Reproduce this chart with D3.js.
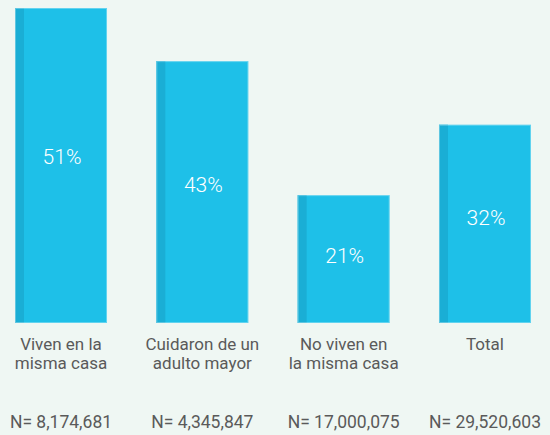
<!DOCTYPE html>
<html>
<head>
<meta charset="utf-8">
<script src="https://cdn.jsdelivr.net/npm/d3@7"></script>
<style>
  html, body { margin: 0; padding: 0; background: #eff7f3; }
  svg { display: block; }
  text { font-family: Roboto, "Noto Sans", sans-serif; }
</style>
</head>
<body>
<svg id="chart" width="550" height="435"></svg>
<script>
const categories = [
  ["Viven en la", "misma casa"],
  ["Cuidaron de un", "adulto mayor"],
  ["No viven en", "la misma casa"],
  ["Total"]
];
const values = [51.0, 42.4, 20.7, 32.1];
const valueLabels = ["51%", "43%", "21%", "32%"];
const nLabels = ["N= 8,174,681", "N= 4,345,847", "N= 17,000,075", "N= 29,520,603"];

const svg = d3.select("#chart");
const W = 550, H = 435;
svg.append("rect").attr("width", W).attr("height", H).attr("fill", "#eff7f3");

const idx = d3.range(values.length);
const x = d3.scaleBand().domain(idx).range([15, 531]).paddingInner(0.349).paddingOuter(0);
const y = d3.scaleLinear().domain([0, 51]).range([323, 8]);

const g = svg.append("g");
const bars = g.selectAll("g.bar").data(idx).join("g").attr("class", "bar");

bars.append("rect")
  .attr("x", i => x(i))
  .attr("y", i => y(values[i]))
  .attr("width", x.bandwidth())
  .attr("height", i => y(0) - y(values[i]))
  .attr("fill", "#1ec0e8");

bars.append("rect")
  .attr("x", i => x(i))
  .attr("y", i => y(values[i]))
  .attr("width", 9)
  .attr("height", i => y(0) - y(values[i]))
  .attr("fill", "#1aaed5");

bars.append("rect")
  .attr("x", i => x(i) + 0.5)
  .attr("y", i => y(values[i]) + 0.5)
  .attr("width", x.bandwidth() - 1)
  .attr("height", i => y(0) - y(values[i]) - 1)
  .attr("fill", "none")
  .attr("stroke", "rgba(255,255,255,0.3)")
  .attr("stroke-width", 1);

bars.append("text")
  .attr("x", i => x(i) + x.bandwidth() / 2 + 1)
  .attr("y", i => y(values[i] * 0.53) + 7.5)
  .attr("text-anchor", "middle")
  .attr("font-size", 21)
  .attr("font-weight", 300)
  .attr("fill", "#ffffff")
  .text(i => valueLabels[i]);

const lab = g.selectAll("text.cat").data(idx).join("text")
  .attr("class", "cat")
  .attr("x", i => x(i) + x.bandwidth() / 2)
  .attr("y", 350)
  .attr("text-anchor", "middle")
  .attr("font-size", 17)
  .attr("fill", "#5a5a5a");
lab.selectAll("tspan").data(i => categories[i]).join("tspan")
  .attr("x", function() { return d3.select(this.parentNode).attr("x"); })
  .attr("dy", (d, j) => j === 0 ? 0 : 18.5)
  .text(d => d);

g.selectAll("text.n").data(idx).join("text")
  .attr("class", "n")
  .attr("x", i => x(i) + x.bandwidth() / 2)
  .attr("y", 428)
  .attr("text-anchor", "middle")
  .attr("font-size", 17.5)
  .attr("fill", "#5a5a5a")
  .text(i => nLabels[i]);
</script>
</body>
</html>
